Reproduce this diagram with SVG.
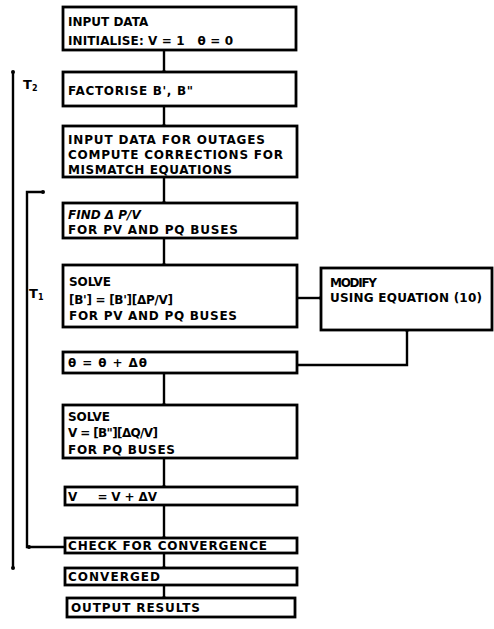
<svg xmlns="http://www.w3.org/2000/svg" width="494" height="629" viewBox="0 0 494 629">
<style>
.box{fill:#fff;stroke:#000;stroke-width:2.8}
.t{font-family:"DejaVu Sans","Liberation Sans",Arial,sans-serif;font-weight:bold;font-size:12px;fill:#000}
.lbl{font-family:"DejaVu Sans","Liberation Sans",Arial,sans-serif;font-weight:bold;font-size:13px;fill:#000}
.c{fill:none;stroke:#000;stroke-width:2.4}
</style>
<defs>
<marker id="dot" viewBox="0 0 6 6" refX="3" refY="3" markerWidth="4" markerHeight="4" markerUnits="userSpaceOnUse"><circle cx="3" cy="3" r="3" fill="#000"/></marker>
</defs>
<g id="connectors">
<path class="c" d="M164 50 V72" marker-end="url(#dot)"/>
<path class="c" d="M164 106 V126" marker-end="url(#dot)"/>
<path class="c" d="M164 177 V203" marker-end="url(#dot)"/>
<path class="c" d="M164 238 V265" marker-end="url(#dot)"/>
<path class="c" d="M297 298 H321" marker-end="url(#dot)"/>
<path class="c" d="M407 330 V365 H297" marker-start="url(#dot)"/>
<path class="c" d="M164 373 V405" marker-end="url(#dot)"/>
<path class="c" d="M164 458 V487" marker-end="url(#dot)"/>
<path class="c" d="M164 505 V538" marker-end="url(#dot)"/>
<path class="c" d="M164 553 V568" marker-end="url(#dot)"/>
<path class="c" d="M164 585 V598" marker-end="url(#dot)"/>
<path class="c" d="M13 72 V568" marker-start="url(#dot)" marker-end="url(#dot)"/>
<path class="c" d="M43 192 H27 V547 H65" marker-start="url(#dot)"/>
<circle cx="29" cy="547" r="2" fill="#000"/>
</g>
<g id="labels">
<text class="lbl" x="23" y="89">T<tspan font-size="8" dy="2">2</tspan></text>
<text class="lbl" x="29" y="298">T<tspan font-size="8" dy="2">1</tspan></text>
</g>
<g id="n1"><rect class="box" x="63" y="7" width="233" height="43"/>
<text class="t" x="68" y="26">INPUT DATA</text>
<text class="t" x="68" y="45" textLength="165" lengthAdjust="spacing" xml:space="preserve">INITIALISE: V = 1   θ = 0</text></g>
<g id="n2"><rect class="box" x="63" y="72" width="233" height="34"/>
<text class="t" x="68" y="95" textLength="125" lengthAdjust="spacing">FACTORISE B', B"</text></g>
<g id="n3"><rect class="box" x="63" y="126" width="234" height="51"/>
<text class="t" x="68" y="144" textLength="197" lengthAdjust="spacing">INPUT DATA FOR OUTAGES</text>
<text class="t" x="68" y="159" textLength="215" lengthAdjust="spacing">COMPUTE CORRECTIONS FOR</text>
<text class="t" x="68" y="174" textLength="164" lengthAdjust="spacing">MISMATCH EQUATIONS</text></g>
<g id="n4"><rect class="box" x="63" y="203" width="234" height="35"/>
<text class="t" x="68" y="219" font-style="italic">FIND Δ P/V</text>
<text class="t" x="68" y="234" textLength="170" lengthAdjust="spacing">FOR PV AND PQ BUSES</text></g>
<g id="n5"><rect class="box" x="63" y="265" width="234" height="62"/>
<text class="t" x="69" y="286" textLength="42" lengthAdjust="spacing">SOLVE</text>
<text class="t" x="69" y="304" textLength="104" lengthAdjust="spacing">[B'] = [B'][ΔP/V]</text>
<text class="t" x="69" y="320" textLength="168" lengthAdjust="spacing">FOR PV AND PQ BUSES</text></g>
<g id="n6"><rect class="box" x="321" y="268" width="171" height="62"/>
<text class="t" x="330" y="287" textLength="47" lengthAdjust="spacing">MODIFY</text>
<text class="t" x="330" y="302" textLength="152" lengthAdjust="spacing">USING EQUATION (10)</text></g>
<g id="n7"><rect class="box" x="63" y="352" width="234" height="21"/>
<text class="t" x="68" y="367" textLength="79" lengthAdjust="spacing">θ = θ + Δθ</text></g>
<g id="n8"><rect class="box" x="63" y="405" width="234" height="53"/>
<text class="t" x="68" y="421" textLength="42" lengthAdjust="spacing">SOLVE</text>
<text class="t" x="68" y="437" textLength="90" lengthAdjust="spacing">V = [B"][ΔQ/V]</text>
<text class="t" x="68" y="454" textLength="107" lengthAdjust="spacing">FOR PQ BUSES</text></g>
<g id="n9"><rect class="box" x="65" y="487" width="232" height="18"/>
<text class="t" x="68" y="501" textLength="89" lengthAdjust="spacing" xml:space="preserve">V     = V + ΔV</text></g>
<g id="n10"><rect class="box" x="65" y="538" width="232" height="15"/>
<text class="t" x="68" y="550" textLength="199" lengthAdjust="spacing">CHECK FOR CONVERGENCE</text></g>
<g id="n11"><rect class="box" x="65" y="568" width="232" height="17"/>
<text class="t" x="68" y="581" textLength="92" lengthAdjust="spacing">CONVERGED</text></g>
<g id="n12"><rect class="box" x="67" y="598" width="228" height="19"/>
<text class="t" x="71" y="612" textLength="129" lengthAdjust="spacing">OUTPUT RESULTS</text></g>
</svg>
